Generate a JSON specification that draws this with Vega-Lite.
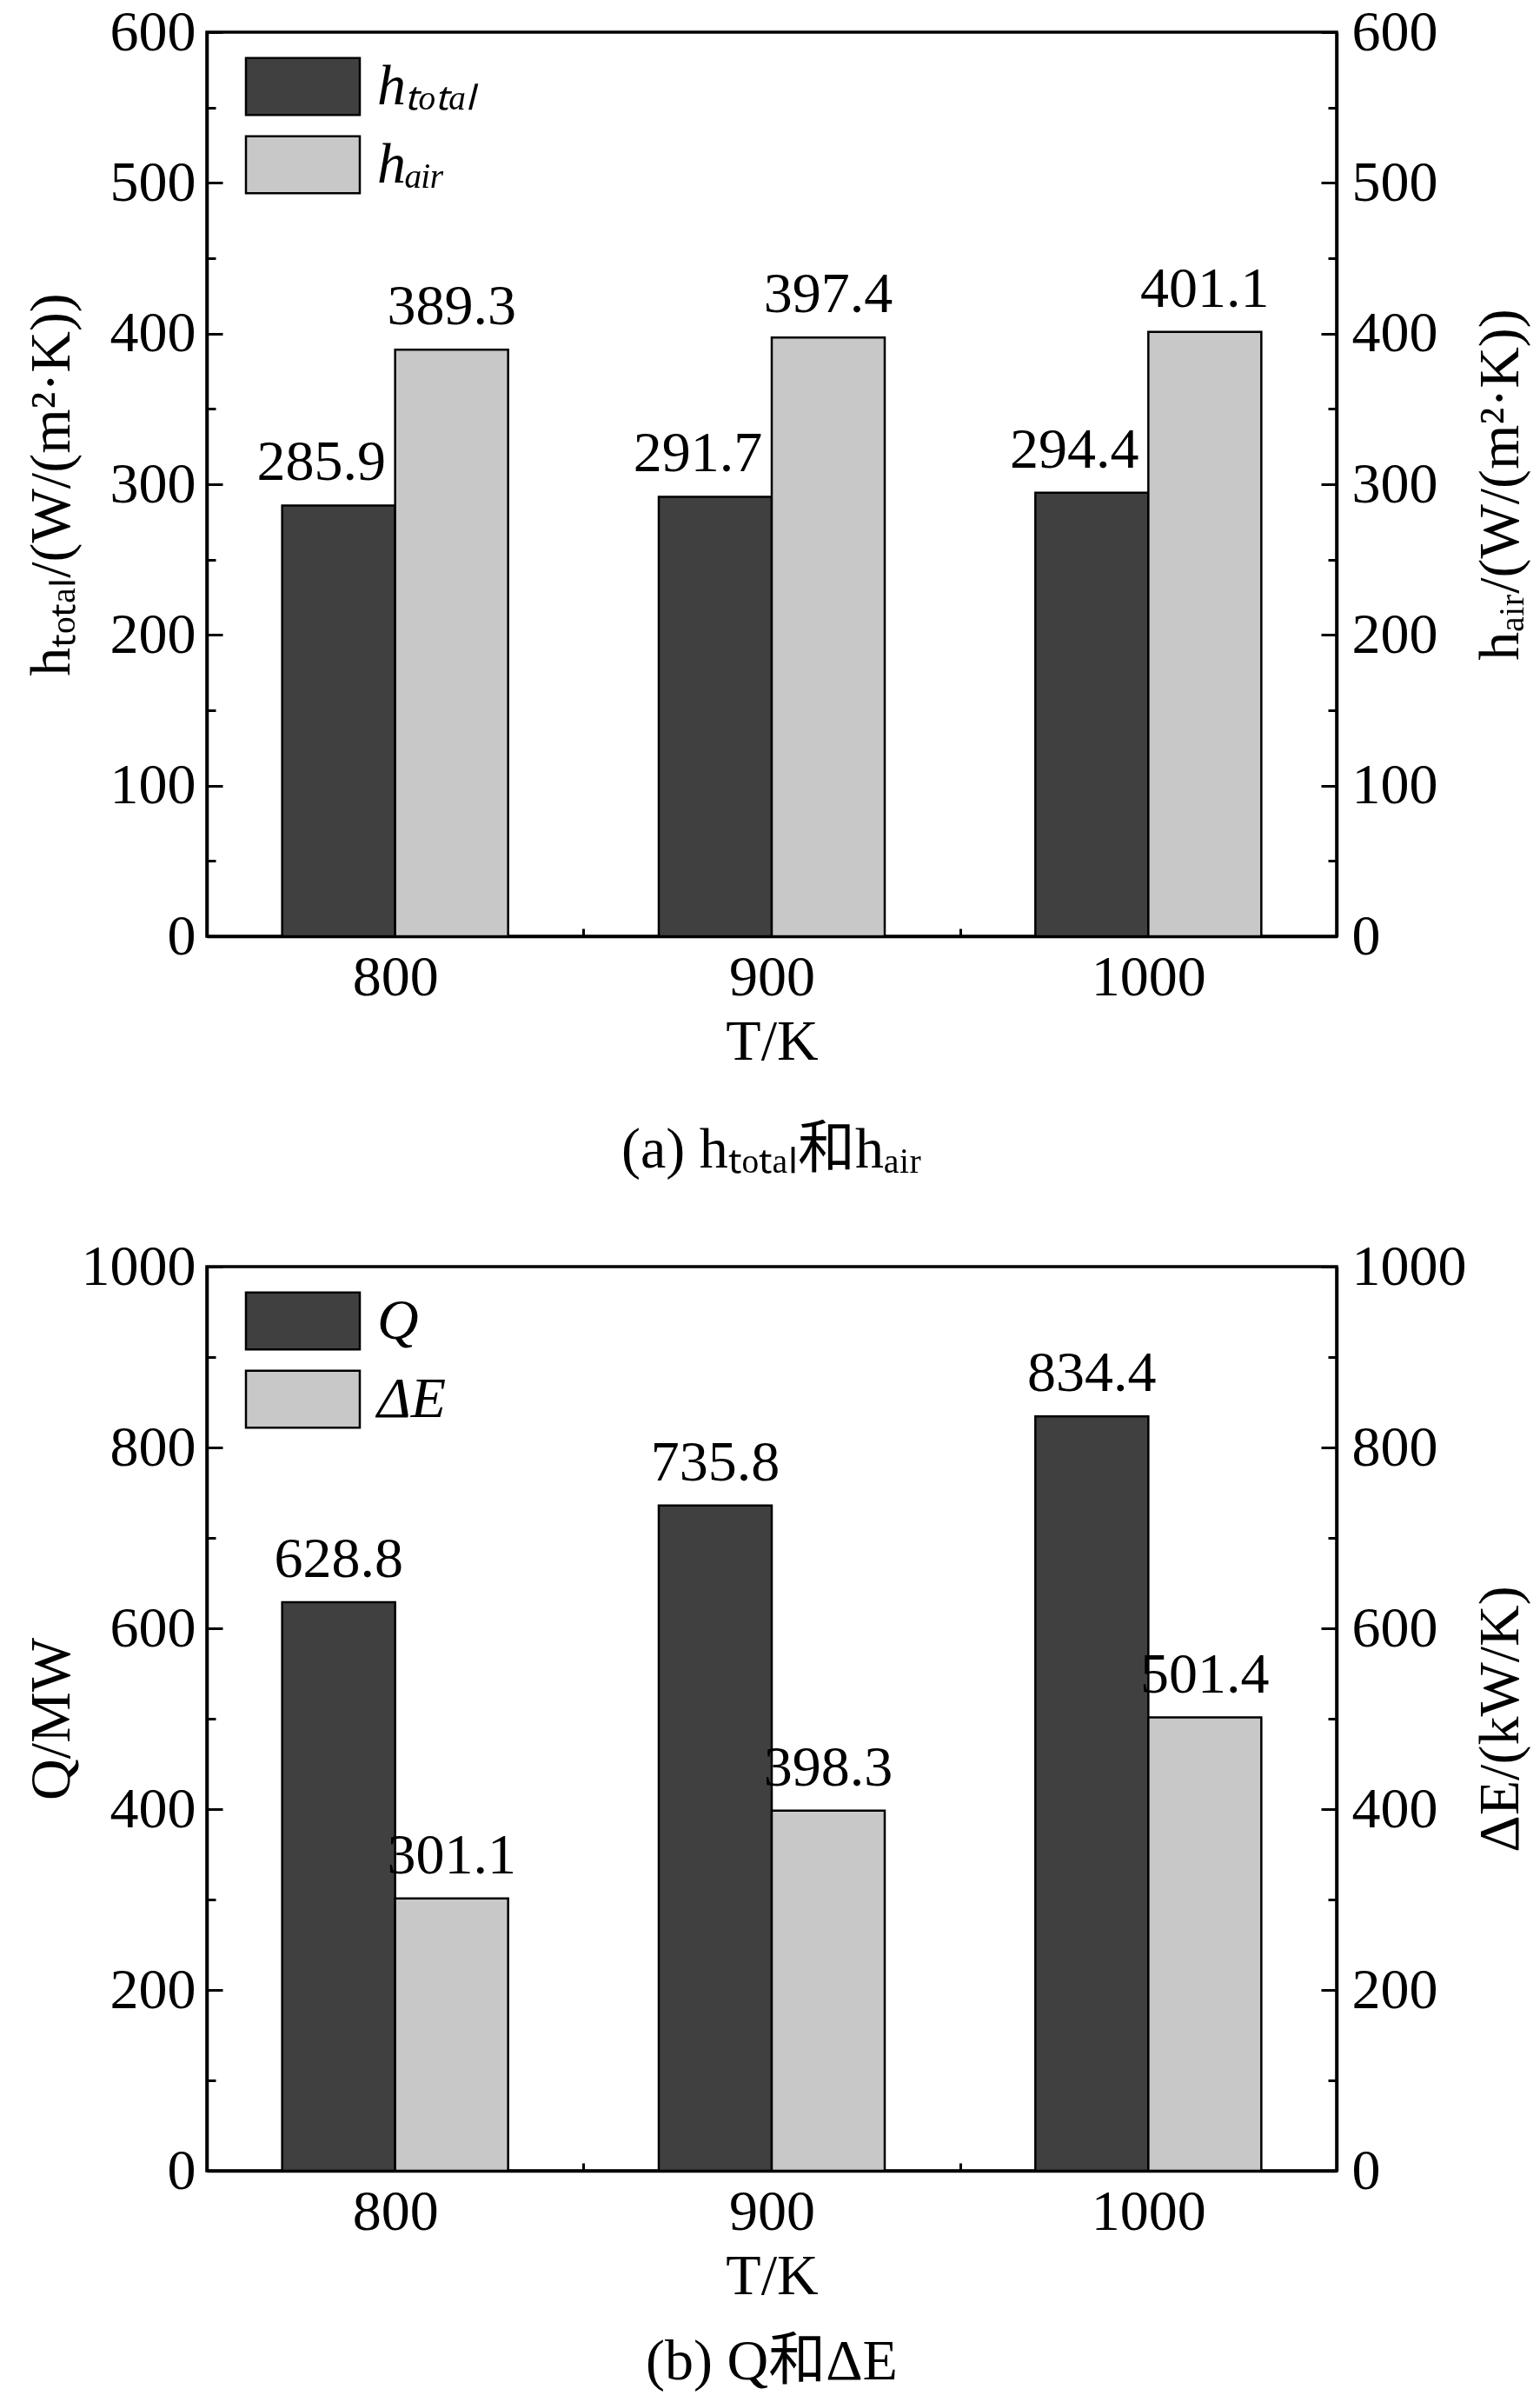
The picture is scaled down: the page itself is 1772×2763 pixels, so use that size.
{
  "$schema": "https://vega.github.io/schema/vega-lite/v6.json",
  "padding": {"left": 24, "top": 2, "right": 0, "bottom": 0},
  "background": "white",
  "config": {
    "font": "Liberation Serif, Noto Sans CJK SC",
    "view": {"stroke": "black", "strokeWidth": 3.5},
    "axis": {"grid": false, "domainColor": "black", "domainWidth": 3.5, "tickColor": "black", "tickWidth": 3, "labelFontSize": 66, "titleFontSize": 66, "labelColor": "black", "titleColor": "black", "titleFontWeight": "normal", "labelFont": "Liberation Serif", "titleFont": "Liberation Serif, Noto Sans CJK SC"},
    "legend": {"orient": "none", "legendX": 59, "legendY": 11, "title": null, "symbolType": "M-1.31,-0.655H1.31V0.655H-1.31Z", "symbolSize": 10000, "symbolStrokeColor": "black", "symbolStrokeWidth": 2.5, "symbolOpacity": 1, "labelFontSize": 66, "labelFontStyle": "italic", "labelFont": "Liberation Serif", "labelColor": "black", "rowPadding": 0, "labelOffset": 34, "padding": 0},
    "title": {"fontSize": 66, "fontWeight": "normal", "font": "Liberation Serif, Noto Sans CJK SC", "color": "black"}
  },
  "datasets": {
    "a": [
      {"T": "800", "s": "h_total", "v": 285.9},
      {"T": "800", "s": "h_air", "v": 389.3},
      {"T": "900", "s": "h_total", "v": 291.7},
      {"T": "900", "s": "h_air", "v": 397.4},
      {"T": "1000", "s": "h_total", "v": 294.4},
      {"T": "1000", "s": "h_air", "v": 401.1}
    ],
    "b": [
      {"T": "800", "s": "Q", "v": 628.8},
      {"T": "800", "s": "dE", "v": 301.1},
      {"T": "900", "s": "Q", "v": 735.8},
      {"T": "900", "s": "dE", "v": 398.3},
      {"T": "1000", "s": "Q", "v": 834.4},
      {"T": "1000", "s": "dE", "v": 501.4}
    ]
  },
  "vconcat": [
    {
      "width": 1300,
      "height": 1040,
      "data": {"name": "a"},
      "title": {"text": "(a) hₜₒₜₐₗ和hₐᵢᵣ", "orient": "bottom", "offset": 60},
      "encoding": {
        "x": {"field": "T", "type": "nominal", "sort": ["800", "900", "1000"], "scale": {"paddingInner": 0.4, "paddingOuter": 0.2},
          "axis": {"title": "T/K", "labelAngle": 0, "bandPosition": 0, "tickOffset": -86.67, "labelOffset": 86.67, "tickExtra": true, "tickSize": -9, "labelPadding": 24, "titlePadding": 9}},
        "xOffset": {"field": "s", "type": "nominal", "scale": {"domain": ["h_total", "h_air"]}},
        "color": {"field": "s", "type": "nominal", "scale": {"domain": ["h_total", "h_air"], "range": ["#404040", "#c8c8c8"]},
          "legend": {"labelExpr": "datum.value === 'h_total' ? 'hₜₒₜₐₗ' : 'hₐᵢᵣ'"}}
      },
      "layer": [
        {
          "transform": [{"filter": "datum.s === 'h_total'"}],
          "encoding": {"y": {"field": "v", "type": "quantitative", "scale": {"domain": [0, 600], "nice": false},
            "axis": {"title": "hₜₒₜₐₗ/(W/(m²·K))", "titleX": -179, "titleY": 520, "titleAngle": -90, "titleBaseline": "middle", "titleAlign": "center",
              "values": [0, 50, 100, 150, 200, 250, 300, 350, 400, 450, 500, 550, 600], "format": "d",
              "labelExpr": "datum.value % 100 === 0 ? datum.label : ''",
              "tickSize": {"condition": {"test": "datum.value % 100 === 0", "value": -18}, "value": -10},
              "labelPadding": 31}}},
          "layer": [
            {"mark": {"type": "bar", "stroke": "black", "strokeWidth": 2.5}},
            {"mark": {"type": "text", "dy": -29, "dx": -20, "baseline": "alphabetic", "fontSize": 66, "font": "Liberation Serif", "color": "black"}, "encoding": {"text": {"field": "v", "type": "quantitative", "format": ".1f"}, "color": {"value": "black"}}}
          ]
        },
        {
          "transform": [{"filter": "datum.s === 'h_air'"}],
          "encoding": {"y": {"field": "v", "type": "quantitative", "scale": {"domain": [0, 600], "nice": false},
            "axis": {"orient": "right", "title": "hₐᵢᵣ/(W/(m²·K))", "titleX": 188, "titleY": 520, "titleAngle": -90, "titleBaseline": "middle", "titleAlign": "center",
              "values": [0, 50, 100, 150, 200, 250, 300, 350, 400, 450, 500, 550, 600], "format": "d",
              "labelExpr": "datum.value % 100 === 0 ? datum.label : ''",
              "tickSize": {"condition": {"test": "datum.value % 100 === 0", "value": -18}, "value": -10},
              "labelPadding": 35}}},
          "layer": [
            {"mark": {"type": "bar", "stroke": "black", "strokeWidth": 2.5}},
            {"mark": {"type": "text", "dy": -29, "baseline": "alphabetic", "fontSize": 66, "font": "Liberation Serif", "color": "black"}, "encoding": {"text": {"field": "v", "type": "quantitative", "format": ".1f"}, "color": {"value": "black"}}}
          ]
        }
      ],
      "resolve": {"scale": {"y": "independent"}}
    },
    {
      "width": 1300,
      "height": 1040,
      "data": {"name": "b"},
      "title": {"text": "(b) Q和ΔE", "orient": "bottom", "offset": 34},
      "encoding": {
        "x": {"field": "T", "type": "nominal", "sort": ["800", "900", "1000"], "scale": {"paddingInner": 0.4, "paddingOuter": 0.2},
          "axis": {"title": "T/K", "labelAngle": 0, "bandPosition": 0, "tickOffset": -86.67, "labelOffset": 86.67, "tickExtra": true, "tickSize": -9, "labelPadding": 24, "titlePadding": 9}},
        "xOffset": {"field": "s", "type": "nominal", "scale": {"domain": ["Q", "dE"]}},
        "color": {"field": "s", "type": "nominal", "scale": {"domain": ["Q", "dE"], "range": ["#404040", "#c8c8c8"]},
          "legend": {"labelExpr": "datum.value === 'Q' ? 'Q' : 'ΔE'"}}
      },
      "layer": [
        {
          "transform": [{"filter": "datum.s === 'Q'"}],
          "encoding": {"y": {"field": "v", "type": "quantitative", "scale": {"domain": [0, 1000], "nice": false},
            "axis": {"title": "Q/MW", "titleX": -179, "titleY": 520, "titleAngle": -90, "titleBaseline": "middle", "titleAlign": "center",
              "values": [0, 100, 200, 300, 400, 500, 600, 700, 800, 900, 1000], "format": "d",
              "labelExpr": "datum.value % 200 === 0 ? datum.label : ''",
              "tickSize": {"condition": {"test": "datum.value % 200 === 0", "value": -18}, "value": -10},
              "labelPadding": 31}}},
          "layer": [
            {"mark": {"type": "bar", "stroke": "black", "strokeWidth": 2.5}},
            {"mark": {"type": "text", "dy": -29, "baseline": "alphabetic", "fontSize": 66, "font": "Liberation Serif", "color": "black"}, "encoding": {"text": {"field": "v", "type": "quantitative", "format": ".1f"}, "color": {"value": "black"}}}
          ]
        },
        {
          "transform": [{"filter": "datum.s === 'dE'"}],
          "encoding": {"y": {"field": "v", "type": "quantitative", "scale": {"domain": [0, 1000], "nice": false},
            "axis": {"orient": "right", "title": "ΔE/(kW/K)", "titleX": 188, "titleY": 520, "titleAngle": -90, "titleBaseline": "middle", "titleAlign": "center",
              "values": [0, 100, 200, 300, 400, 500, 600, 700, 800, 900, 1000], "format": "d",
              "labelExpr": "datum.value % 200 === 0 ? datum.label : ''",
              "tickSize": {"condition": {"test": "datum.value % 200 === 0", "value": -18}, "value": -10},
              "labelPadding": 35}}},
          "layer": [
            {"mark": {"type": "bar", "stroke": "black", "strokeWidth": 2.5}},
            {"mark": {"type": "text", "dy": -29, "baseline": "alphabetic", "fontSize": 66, "font": "Liberation Serif", "color": "black"}, "encoding": {"text": {"field": "v", "type": "quantitative", "format": ".1f"}, "color": {"value": "black"}}}
          ]
        }
      ],
      "resolve": {"scale": {"y": "independent"}}
    }
  ],
  "resolve": {"scale": {"color": "independent", "xOffset": "independent", "x": "independent"}, "legend": {"color": "independent"}},
  "spacing": 380,
  "bounds": "flush"
}
